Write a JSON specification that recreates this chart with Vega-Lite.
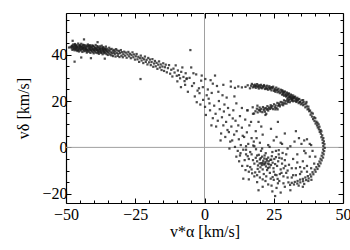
{
"$schema":"https://vega.github.io/schema/vega-lite/v6.json",
"width":277,"height":190,
"autosize":{"type":"none"},
"padding":{"left":66,"top":13,"right":7,"bottom":47},
"background":"white",
"config":{"view":{"stroke":null},
"scale":{"zero":false},
"axis":{"labelFont":"Liberation Serif","titleFont":"Liberation Serif","labelFontSize":16,"titleFontSize":16,"labelColor":"#000","titleColor":"#000","titleFontWeight":"normal","domain":false,"grid":false,"tickColor":"#000","tickWidth":1,"labelFlush":false,"labelOverlap":false}},
"resolve":{"axis":{"x":"independent","y":"independent"}},
"layer":[
{"data":{"values":[{"va":0}]},"mark":{"type":"rule","color":"#a0a0a0","strokeWidth":1},"encoding":{"x":{"field":"va","type":"quantitative","scale":{"domain":[-50,50],"nice":false,"padding":0},"axis":null}}},
{"data":{"values":[{"vd":0}]},"mark":{"type":"rule","color":"#a0a0a0","strokeWidth":1},"encoding":{"y":{"field":"vd","type":"quantitative","scale":{"domain":[-24,58],"nice":false,"padding":0},"axis":null}}},
{"data":{"values":[
{"va":-48.3,"vd":43.4},{"va":-48.0,"vd":42.8},{"va":-47.8,"vd":43.9},{"va":-47.7,"vd":42.1},{"va":-47.5,"vd":43.3},{"va":-47.4,"vd":44.4},{"va":-47.2,"vd":42.7},{"va":-47.1,"vd":43.6},{"va":-46.9,"vd":41.9},{"va":-46.8,"vd":43.1},
{"va":-46.7,"vd":44.6},{"va":-46.6,"vd":42.5},{"va":-46.4,"vd":43.7},{"va":-46.3,"vd":42.0},{"va":-46.2,"vd":44.1},{"va":-46.0,"vd":42.9},{"va":-45.9,"vd":41.6},{"va":-45.8,"vd":43.5},{"va":-45.6,"vd":44.8},{"va":-45.5,"vd":42.3},
{"va":-45.4,"vd":43.0},{"va":-45.3,"vd":41.4},{"va":-45.1,"vd":44.2},{"va":-45.0,"vd":42.6},{"va":-44.9,"vd":43.8},{"va":-44.7,"vd":41.8},{"va":-44.6,"vd":43.2},{"va":-44.5,"vd":44.7},{"va":-44.3,"vd":42.4},{"va":-44.2,"vd":43.6},
{"va":-44.1,"vd":41.2},{"va":-43.9,"vd":42.9},{"va":-43.8,"vd":44.3},{"va":-43.7,"vd":42.0},{"va":-43.5,"vd":43.4},{"va":-43.4,"vd":41.5},{"va":-43.3,"vd":42.7},{"va":-43.1,"vd":44.0},{"va":-43.0,"vd":43.1},{"va":-42.9,"vd":41.7},
{"va":-42.8,"vd":42.5},{"va":-42.6,"vd":43.9},{"va":-42.5,"vd":40.9},{"va":-42.4,"vd":42.2},{"va":-42.2,"vd":43.5},{"va":-42.1,"vd":44.4},{"va":-42.0,"vd":41.9},{"va":-41.8,"vd":42.8},{"va":-41.7,"vd":41.3},{"va":-41.6,"vd":43.7},
{"va":-41.4,"vd":42.4},{"va":-41.3,"vd":44.1},{"va":-41.2,"vd":40.8},{"va":-41.0,"vd":42.0},{"va":-40.9,"vd":43.2},{"va":-40.8,"vd":41.6},{"va":-40.6,"vd":42.9},{"va":-40.5,"vd":44.0},{"va":-40.4,"vd":41.1},{"va":-40.2,"vd":42.5},
{"va":-40.1,"vd":43.6},{"va":-40.0,"vd":40.6},{"va":-39.8,"vd":42.1},{"va":-39.7,"vd":43.3},{"va":-39.6,"vd":41.4},{"va":-39.4,"vd":42.7},{"va":-39.3,"vd":44.2},{"va":-39.2,"vd":40.9},{"va":-39.0,"vd":41.9},{"va":-38.9,"vd":43.0},
{"va":-38.8,"vd":42.3},{"va":-38.6,"vd":40.7},{"va":-38.5,"vd":41.6},{"va":-38.4,"vd":43.4},{"va":-38.2,"vd":42.0},{"va":-38.1,"vd":40.4},{"va":-38.0,"vd":42.8},{"va":-37.8,"vd":41.3},{"va":-37.7,"vd":43.6},{"va":-37.6,"vd":42.2},
{"va":-37.4,"vd":40.8},{"va":-37.3,"vd":41.8},{"va":-37.2,"vd":43.0},{"va":-37.0,"vd":41.0},{"va":-36.9,"vd":42.5},{"va":-36.8,"vd":40.2},{"va":-36.6,"vd":41.7},{"va":-36.5,"vd":43.3},{"va":-36.4,"vd":42.0},{"va":-36.2,"vd":40.6},
{"va":-36.1,"vd":41.4},{"va":-36.0,"vd":42.7},{"va":-35.8,"vd":40.9},{"va":-35.7,"vd":42.2},{"va":-35.6,"vd":43.5},{"va":-35.4,"vd":40.3},{"va":-35.3,"vd":41.5},{"va":-35.2,"vd":42.6},{"va":-35.0,"vd":41.2},{"va":-34.9,"vd":39.9},
{"va":-34.7,"vd":42.0},{"va":-34.6,"vd":40.8},{"va":-34.4,"vd":43.0},{"va":-34.3,"vd":41.6},{"va":-34.1,"vd":40.1},{"va":-34.0,"vd":42.3},{"va":-33.8,"vd":41.0},{"va":-33.6,"vd":39.7},{"va":-33.5,"vd":42.5},{"va":-33.3,"vd":40.6},
{"va":-33.1,"vd":41.7},{"va":-33.0,"vd":39.4},{"va":-32.8,"vd":40.9},{"va":-32.6,"vd":42.1},{"va":-32.4,"vd":40.3},{"va":-32.3,"vd":41.4},{"va":-32.1,"vd":39.2},{"va":-31.9,"vd":42.4},{"va":-31.7,"vd":40.7},{"va":-31.5,"vd":41.8},
{"va":-31.3,"vd":39.5},{"va":-31.1,"vd":40.4},{"va":-30.9,"vd":41.6},{"va":-30.7,"vd":39.0},{"va":-30.5,"vd":40.8},{"va":-30.2,"vd":42.0},{"va":-30.0,"vd":39.6},{"va":-29.8,"vd":41.1},{"va":-29.5,"vd":38.9},{"va":-29.3,"vd":40.2},
{"va":-47.9,"vd":43.6},{"va":-47.3,"vd":42.4},{"va":-46.9,"vd":44.3},{"va":-46.4,"vd":42.8},{"va":-46.1,"vd":43.4},{"va":-45.7,"vd":42.1},{"va":-45.2,"vd":43.9},{"va":-44.8,"vd":42.2},{"va":-44.4,"vd":43.5},{"va":-44.0,"vd":42.6},
{"va":-43.6,"vd":44.1},{"va":-43.2,"vd":42.3},{"va":-42.7,"vd":43.2},{"va":-42.3,"vd":41.4},{"va":-41.9,"vd":43.9},{"va":-41.5,"vd":42.1},{"va":-41.1,"vd":43.5},{"va":-40.7,"vd":42.2},{"va":-40.3,"vd":43.8},{"va":-39.9,"vd":41.8},
{"va":-39.5,"vd":42.9},{"va":-39.1,"vd":42.4},{"va":-38.7,"vd":43.7},{"va":-38.3,"vd":41.1},{"va":-37.9,"vd":42.5},{"va":-37.5,"vd":41.5},{"va":-37.1,"vd":43.9},{"va":-36.7,"vd":42.3},{"va":-36.3,"vd":41.2},{"va":-35.9,"vd":42.4},
{"va":-46.6,"vd":43.9},{"va":-45.0,"vd":43.3},{"va":-43.9,"vd":43.0},{"va":-42.6,"vd":42.2},{"va":-41.4,"vd":43.0},{"va":-40.1,"vd":42.2},{"va":-38.9,"vd":42.1},{"va":-37.8,"vd":42.6},{"va":-36.6,"vd":42.9},{"va":-35.5,"vd":41.9},
{"va":-29.0,"vd":41.3},{"va":-28.7,"vd":39.6},{"va":-28.4,"vd":40.9},{"va":-28.1,"vd":38.7},{"va":-27.8,"vd":40.1},{"va":-27.5,"vd":41.2},{"va":-27.2,"vd":39.3},{"va":-26.9,"vd":40.4},{"va":-26.6,"vd":38.5},{"va":-26.3,"vd":39.8},
{"va":-26.0,"vd":41.0},{"va":-25.7,"vd":38.9},{"va":-25.4,"vd":40.1},{"va":-25.1,"vd":37.9},{"va":-24.8,"vd":39.3},{"va":-24.5,"vd":40.3},{"va":-24.2,"vd":38.0},{"va":-23.9,"vd":39.1},{"va":-23.6,"vd":36.9},{"va":-23.3,"vd":38.5},
{"va":-23.0,"vd":39.6},{"va":-22.7,"vd":37.5},{"va":-22.4,"vd":38.6},{"va":-22.1,"vd":36.4},{"va":-21.8,"vd":38.0},{"va":-21.5,"vd":39.2},{"va":-21.2,"vd":36.9},{"va":-20.9,"vd":37.8},{"va":-20.6,"vd":35.8},{"va":-20.3,"vd":38.6},
{"va":-20.0,"vd":36.7},{"va":-19.7,"vd":37.9},{"va":-19.4,"vd":35.5},{"va":-19.1,"vd":36.8},{"va":-18.8,"vd":38.1},{"va":-18.5,"vd":34.8},{"va":-18.2,"vd":36.2},{"va":-17.9,"vd":37.3},{"va":-17.6,"vd":35.0},{"va":-17.3,"vd":36.5},
{"va":-17.0,"vd":33.9},{"va":-16.7,"vd":35.7},{"va":-16.4,"vd":37.1},{"va":-16.1,"vd":34.5},{"va":-15.8,"vd":35.8},{"va":-15.5,"vd":33.4},{"va":-15.2,"vd":34.9},{"va":-14.9,"vd":36.3},{"va":-14.6,"vd":33.0},{"va":-14.3,"vd":34.6},
{"va":-14.0,"vd":35.7},{"va":-13.6,"vd":32.4},{"va":-13.2,"vd":34.2},{"va":-12.8,"vd":35.5},{"va":-12.4,"vd":31.8},{"va":-12.0,"vd":33.5},{"va":-11.6,"vd":30.6},{"va":-11.2,"vd":34.0},{"va":-10.8,"vd":32.3},{"va":-10.4,"vd":35.4},
{"va":-10.0,"vd":30.9},{"va":-9.6,"vd":33.2},{"va":-9.2,"vd":31.2},{"va":-8.8,"vd":29.8},{"va":-8.4,"vd":32.6},{"va":-8.0,"vd":34.5},{"va":-7.6,"vd":30.4},{"va":-7.2,"vd":28.6},{"va":-6.8,"vd":32.0},{"va":-6.4,"vd":29.8},
{"va":-46.9,"vd":37.0},{"va":-43.5,"vd":46.6},{"va":-44.5,"vd":38.8},{"va":-41.0,"vd":38.5},{"va":-38.6,"vd":45.4},{"va":-23.1,"vd":29.5},{"va":-5.1,"vd":42.0},{"va":-48.9,"vd":43.1},{"va":-47.6,"vd":46.0},{"va":-36.0,"vd":38.3},
{"va":-9.8,"vd":28.5},{"va":-7.0,"vd":27.0},{"va":-6.5,"vd":29.5},{"va":-5.4,"vd":30.0},{"va":-4.5,"vd":26.5},{"va":-3.8,"vd":27.7},{"va":-3.0,"vd":31.5},{"va":-2.5,"vd":24.5},{"va":-1.8,"vd":23.4},{"va":-1.2,"vd":28.8},{"va":-0.6,"vd":26.0},{"va":0.3,"vd":29.5},{"va":0.8,"vd":22.5},{"va":1.2,"vd":25.0},{"va":1.5,"vd":21.0},{"va":-0.5,"vd":20.5},{"va":-1.5,"vd":18.5},{"va":0.2,"vd":17.5},{"va":1.8,"vd":19.0},{"va":2.0,"vd":16.0},{"va":2.6,"vd":23.5},{"va":3.0,"vd":12.6},{"va":3.5,"vd":18.0},{"va":4.0,"vd":14.5},{"va":4.2,"vd":9.0},{"va":4.8,"vd":11.5},{"va":5.2,"vd":20.0},{"va":5.5,"vd":16.5},{"va":6.0,"vd":6.0},{"va":6.3,"vd":13.0},{"va":6.8,"vd":9.5},{"va":7.2,"vd":18.5},{"va":7.5,"vd":4.5},{"va":7.8,"vd":11.0},{"va":8.3,"vd":7.5},{"va":8.8,"vd":6.6},{"va":9.0,"vd":14.0},{"va":9.3,"vd":2.5},{"va":9.7,"vd":9.0},{"va":10.0,"vd":3.0},{"va":10.4,"vd":16.0},{"va":10.7,"vd":5.5},{"va":11.0,"vd":0.2},{"va":11.2,"vd":11.5},{"va":11.6,"vd":7.0},{"va":12.0,"vd":-1.5},{"va":12.4,"vd":3.5},{"va":12.8,"vd":13.5},{"va":13.1,"vd":1.0},{"va":13.5,"vd":8.5},{"va":14.0,"vd":-1.0},{"va":14.3,"vd":4.5},{"va":14.7,"vd":12.0},{"va":15.0,"vd":-3.0},{"va":15.3,"vd":6.5},{"va":15.8,"vd":1.5},{"va":16.2,"vd":9.5},{"va":16.5,"vd":-2.0},{"va":17.0,"vd":4.0},{"va":17.5,"vd":14.5},{"va":18.0,"vd":0.5},{"va":18.5,"vd":7.0},{"va":19.0,"vd":-3.5},{"va":19.5,"vd":11.0},{"va":20.0,"vd":2.0},{"va":21.0,"vd":5.5},{"va":22.0,"vd":14.0},{"va":23.0,"vd":1.0},{"va":24.0,"vd":8.0},{"va":25.0,"vd":3.0},{"va":26.5,"vd":11.0},{"va":28.0,"vd":1.5},{"va":29.0,"vd":6.0},{"va":33.0,"vd":7.0},{"va":36.0,"vd":3.0},{"va":38.0,"vd":1.5},{"va":3.0,"vd":27.5},{"va":-2.0,"vd":25.5},{"va":5.0,"vd":24.0},{"va":8.0,"vd":21.5},{"va":11.5,"vd":19.0},{"va":13.5,"vd":17.0},{"va":15.5,"vd":16.0},{"va":-4.0,"vd":32.0},{"va":-8.5,"vd":26.0},{"va":9.5,"vd":28.5},
{"va":-3.5,"vd":22.0},{"va":-1.0,"vd":31.0},{"va":2.2,"vd":29.0},{"va":4.5,"vd":26.5},{"va":6.5,"vd":22.5},{"va":7.0,"vd":15.5},{"va":8.5,"vd":17.0},{"va":10.2,"vd":12.5},{"va":12.2,"vd":9.5},{"va":13.8,"vd":5.0},{"va":16.8,"vd":11.0},{"va":18.8,"vd":4.0},{"va":20.5,"vd":9.0},{"va":5.8,"vd":3.0},{"va":9.0,"vd":-0.5},
{"va":-6.0,"vd":24.0},{"va":-2.8,"vd":19.5},{"va":0.5,"vd":14.0},{"va":2.5,"vd":9.5},{"va":-4.8,"vd":34.5},{"va":3.8,"vd":31.0},{"va":6.8,"vd":27.0},{"va":10.8,"vd":22.0},
{"va":9.5,"vd":26.2},{"va":11.0,"vd":25.7},{"va":12.2,"vd":26.3},{"va":13.5,"vd":25.9},{"va":14.8,"vd":26.1},{"va":15.6,"vd":26.8},{"va":16.4,"vd":25.5},
{"va":16.8,"vd":26.6},{"va":17.1,"vd":27.4},{"va":17.4,"vd":25.9},{"va":17.7,"vd":26.8},{"va":17.9,"vd":26.2},{"va":18.2,"vd":27.1},{"va":18.5,"vd":25.7},{"va":18.7,"vd":26.5},{"va":19.0,"vd":27.3},{"va":19.3,"vd":26.0},
{"va":19.6,"vd":25.4},{"va":19.8,"vd":26.8},{"va":20.1,"vd":26.2},{"va":20.4,"vd":27.0},{"va":20.7,"vd":25.5},{"va":20.9,"vd":26.4},{"va":21.2,"vd":25.9},{"va":21.5,"vd":26.9},{"va":21.8,"vd":25.2},{"va":22.0,"vd":26.3},
{"va":22.3,"vd":25.6},{"va":22.6,"vd":26.6},{"va":22.9,"vd":24.9},{"va":23.1,"vd":25.8},{"va":23.4,"vd":26.4},{"va":23.7,"vd":25.1},{"va":24.0,"vd":25.9},{"va":24.2,"vd":24.6},{"va":24.5,"vd":25.5},{"va":24.8,"vd":26.2},
{"va":25.1,"vd":24.4},{"va":25.3,"vd":25.3},{"va":25.6,"vd":24.0},{"va":25.9,"vd":25.8},{"va":26.1,"vd":24.7},{"va":26.4,"vd":23.8},{"va":26.7,"vd":25.3},{"va":26.9,"vd":24.2},{"va":27.2,"vd":23.4},{"va":27.5,"vd":24.9},
{"va":27.7,"vd":23.9},{"va":28.0,"vd":22.8},{"va":28.2,"vd":24.5},{"va":28.5,"vd":23.4},{"va":28.7,"vd":22.3},{"va":29.0,"vd":24.1},{"va":29.2,"vd":23.0},{"va":29.5,"vd":21.9},{"va":29.7,"vd":23.7},{"va":30.0,"vd":22.6},
{"va":30.2,"vd":21.4},{"va":30.5,"vd":23.3},{"va":30.7,"vd":22.1},{"va":31.0,"vd":20.9},{"va":31.2,"vd":22.8},{"va":31.5,"vd":21.7},{"va":31.7,"vd":20.5},{"va":32.0,"vd":22.4},{"va":32.2,"vd":21.2},{"va":32.5,"vd":20.1},
{"va":32.7,"vd":21.9},{"va":33.0,"vd":20.7},{"va":33.2,"vd":19.6},{"va":33.5,"vd":21.4},{"va":33.7,"vd":20.2},{"va":34.0,"vd":19.1},{"va":34.2,"vd":20.9},{"va":34.5,"vd":19.7},{"va":34.8,"vd":18.6},{"va":35.0,"vd":20.3},
{"va":35.3,"vd":19.1},{"va":35.6,"vd":18.2},{"va":35.8,"vd":19.6},{"va":36.1,"vd":18.6},{"va":36.4,"vd":17.3},{"va":36.7,"vd":18.9},{"va":36.9,"vd":17.7},{"va":37.2,"vd":16.4},{"va":37.5,"vd":17.6},{"va":37.8,"vd":15.6},
{"va":27.9,"vd":24.6},{"va":28.4,"vd":23.9},{"va":28.8,"vd":24.0},{"va":29.3,"vd":22.5},{"va":29.9,"vd":23.3},{"va":30.4,"vd":22.9},{"va":30.9,"vd":21.8},{"va":31.4,"vd":22.4},{"va":31.9,"vd":21.5},{"va":32.4,"vd":21.6},
{"va":32.9,"vd":21.1},{"va":33.4,"vd":20.5},{"va":33.9,"vd":20.8},{"va":34.4,"vd":19.5},{"va":30.6,"vd":21.8},{"va":29.6,"vd":22.2},{"va":31.6,"vd":20.9},{"va":28.3,"vd":22.9},{"va":33.1,"vd":19.9},{"va":26.3,"vd":24.9},
{"va":25.4,"vd":24.8},{"va":24.4,"vd":25.9},{"va":23.6,"vd":25.6},{"va":22.5,"vd":25.3},{"va":21.4,"vd":26.4},{"va":20.3,"vd":25.8},{"va":19.4,"vd":26.6},{"va":18.4,"vd":26.4},{"va":35.6,"vd":20.4},{"va":36.8,"vd":19.6},
{"va":38.1,"vd":15.9},{"va":37.6,"vd":16.6},{"va":38.6,"vd":15.0},{"va":38.3,"vd":14.1},{"va":39.1,"vd":14.6},{"va":38.8,"vd":13.3},{"va":39.6,"vd":13.0},{"va":39.2,"vd":12.2},{"va":40.0,"vd":12.6},{"va":39.7,"vd":11.4},
{"va":40.4,"vd":11.1},{"va":40.1,"vd":10.3},{"va":40.8,"vd":10.6},{"va":40.6,"vd":9.5},{"va":41.2,"vd":9.9},{"va":40.9,"vd":8.6},{"va":41.5,"vd":8.9},{"va":41.3,"vd":7.8},{"va":41.9,"vd":7.5},{"va":41.6,"vd":6.7},
{"va":42.2,"vd":6.9},{"va":42.0,"vd":5.9},{"va":42.5,"vd":5.2},{"va":42.2,"vd":4.4},{"va":42.9,"vd":4.0},{"va":42.6,"vd":3.3},{"va":43.1,"vd":2.6},{"va":42.7,"vd":1.9},{"va":43.3,"vd":1.4},{"va":42.9,"vd":0.6},
{"va":43.4,"vd":-0.2},{"va":42.8,"vd":-0.9},{"va":43.2,"vd":-1.6},{"va":42.6,"vd":-2.3},{"va":43.0,"vd":-3.0},{"va":42.3,"vd":-3.6},{"va":42.8,"vd":-4.4},{"va":41.9,"vd":-4.9},{"va":42.3,"vd":-5.6},{"va":41.5,"vd":-6.1},
{"va":41.9,"vd":-6.9},{"va":41.0,"vd":-7.3},{"va":41.4,"vd":-8.1},{"va":40.4,"vd":-8.5},{"va":40.8,"vd":-9.3},{"va":39.8,"vd":-9.6},{"va":40.1,"vd":-10.5},{"va":39.0,"vd":-10.7},{"va":39.3,"vd":-11.6},{"va":38.2,"vd":-11.7},
{"va":38.5,"vd":-12.6},{"va":37.3,"vd":-12.4},{"va":37.6,"vd":-13.4},{"va":36.4,"vd":-13.0},{"va":36.7,"vd":-14.1},{"va":35.5,"vd":-13.6},{"va":35.6,"vd":-14.6},{"va":34.5,"vd":-13.9},{"va":34.6,"vd":-15.1},{"va":33.6,"vd":-14.5},
{"va":33.5,"vd":-15.6},{"va":32.6,"vd":-14.9},{"va":32.3,"vd":-16.0},{"va":31.5,"vd":-15.3},{"va":30.9,"vd":-16.2},{"va":30.3,"vd":-15.1},{"va":36.0,"vd":-15.8},{"va":38.6,"vd":-14.0},{"va":37.0,"vd":-10.5},{"va":39.6,"vd":-7.0},
{"va":18.4,"vd":15.6},{"va":18.9,"vd":16.7},{"va":19.2,"vd":15.1},{"va":19.6,"vd":16.2},{"va":19.9,"vd":17.2},{"va":20.2,"vd":15.5},{"va":20.5,"vd":16.6},{"va":20.9,"vd":15.2},{"va":21.1,"vd":17.4},{"va":21.4,"vd":16.1},
{"va":21.8,"vd":15.4},{"va":22.1,"vd":17.0},{"va":22.4,"vd":16.3},{"va":22.7,"vd":17.8},{"va":23.0,"vd":15.9},{"va":23.3,"vd":17.2},{"va":23.6,"vd":16.6},{"va":23.9,"vd":18.2},{"va":24.2,"vd":16.9},{"va":24.5,"vd":17.8},
{"va":24.8,"vd":16.5},{"va":25.1,"vd":18.6},{"va":25.4,"vd":17.3},{"va":25.7,"vd":18.1},{"va":26.0,"vd":17.0},{"va":26.3,"vd":19.2},{"va":26.6,"vd":18.0},{"va":26.9,"vd":18.9},{"va":27.2,"vd":17.7},{"va":27.5,"vd":19.6},
{"va":27.8,"vd":18.5},{"va":28.1,"vd":19.4},{"va":28.4,"vd":18.2},{"va":28.7,"vd":20.3},{"va":29.0,"vd":19.0},{"va":29.3,"vd":20.0},{"va":29.6,"vd":18.9},{"va":29.9,"vd":20.8},{"va":30.2,"vd":19.6},{"va":30.5,"vd":20.5},
{"va":30.8,"vd":19.5},{"va":31.1,"vd":21.3},{"va":31.4,"vd":20.1},{"va":31.7,"vd":21.0},{"va":32.0,"vd":19.9},{"va":32.3,"vd":21.6},{"va":25.6,"vd":16.4},{"va":27.0,"vd":18.3},{"va":28.5,"vd":19.0},{"va":30.0,"vd":20.2},
{"va":24.0,"vd":17.5},{"va":22.8,"vd":16.6},{"va":21.6,"vd":16.8},{"va":20.0,"vd":16.0},{"va":17.4,"vd":17.3},{"va":17.9,"vd":14.6},{"va":19.1,"vd":18.0},{"va":22.3,"vd":14.5},{"va":26.4,"vd":16.4},{"va":15.5,"vd":16.0},
{"va":34.1,"vd":4.0},{"va":38.5,"vd":1.0},{"va":36.0,"vd":-1.5},{"va":26.0,"vd":4.5},{"va":30.0,"vd":-0.5},{"va":32.5,"vd":2.5},
{"va":18.5,"vd":-4.5},{"va":19.0,"vd":-6.0},{"va":19.3,"vd":-7.8},{"va":19.6,"vd":-3.2},{"va":20.0,"vd":-5.2},{"va":20.2,"vd":-8.6},{"va":20.5,"vd":-6.8},{"va":20.8,"vd":-4.0},{"va":21.0,"vd":-9.5},{"va":21.2,"vd":-5.8},{"va":21.5,"vd":-7.4},{"va":21.7,"vd":-3.5},{"va":22.0,"vd":-6.4},{"va":22.2,"vd":-8.2},{"va":22.4,"vd":-5.0},{"va":22.6,"vd":-9.8},{"va":22.8,"vd":-7.0},{"va":23.0,"vd":-4.4},{"va":23.2,"vd":-6.0},{"va":23.5,"vd":-8.6},{"va":23.8,"vd":-5.4},{"va":24.0,"vd":-7.6},{"va":24.3,"vd":-3.8},{"va":24.6,"vd":-6.6},{"va":24.9,"vd":-9.0},{"va":25.2,"vd":-5.0},{"va":25.5,"vd":-7.2},{"va":25.8,"vd":-4.2},{"va":26.2,"vd":-8.0},{"va":26.6,"vd":-6.0},{"va":18.0,"vd":-7.0},{"va":17.5,"vd":-5.5},{"va":17.0,"vd":-3.0},{"va":16.5,"vd":-8.5},{"va":19.8,"vd":-10.5},{"va":21.4,"vd":-11.5},{"va":23.6,"vd":-11.0},{"va":22.1,"vd":-2.5},{"va":20.4,"vd":-1.5},{"va":24.5,"vd":-2.0},{"va":21.0,"vd":-6.7},{"va":22.5,"vd":-5.7},{"va":21.8,"vd":-7.0},{"va":23.3,"vd":-7.3},{"va":20.7,"vd":-7.6},{"va":22.9,"vd":-8.9},{"va":19.9,"vd":-6.9},{"va":21.6,"vd":-4.8},{"va":24.1,"vd":-5.3},{"va":20.3,"vd":-4.6},{"va":19.2,"vd":-9.3},{"va":22.3,"vd":-12.5},{"va":25.0,"vd":-10.5},{"va":23.9,"vd":-13.5},{"va":26.0,"vd":-12.0},{"va":27.5,"vd":-9.5},{"va":27.0,"vd":-4.5},{"va":28.0,"vd":-7.0},
{"va":18.3,"vd":-10.8},{"va":26.8,"vd":-3.0},{"va":19.0,"vd":-12.0},{"va":27.2,"vd":-11.5},{"va":17.2,"vd":-11.2},{"va":25.8,"vd":-1.5},{"va":28.6,"vd":-9.0},{"va":16.0,"vd":-10.5},{"va":24.6,"vd":-12.8},{"va":18.6,"vd":-0.8},{"va":27.9,"vd":-4.8},{"va":15.6,"vd":-3.8},{"va":21.0,"vd":-13.8},{"va":26.4,"vd":-13.6},{"va":14.8,"vd":-9.8},{"va":29.2,"vd":-8.0},{"va":17.6,"vd":0.8},{"va":25.5,"vd":-11.8},{"va":13.6,"vd":-8.0},{"va":28.2,"vd":-2.4},
{"va":11.5,"vd":-4.0},{"va":13.0,"vd":-2.5},{"va":14.5,"vd":-5.5},{"va":15.5,"vd":-8.0},{"va":14.0,"vd":-13.5},{"va":16.0,"vd":-13.8},{"va":18.0,"vd":-12.5},{"va":19.0,"vd":-15.0},{"va":19.5,"vd":-18.5},{"va":21.0,"vd":-17.0},{"va":23.0,"vd":-16.0},{"va":24.5,"vd":-19.0},{"va":25.5,"vd":-21.0},{"va":26.0,"vd":-17.5},{"va":27.0,"vd":-14.5},{"va":28.5,"vd":-12.5},{"va":29.0,"vd":-17.0},{"va":30.0,"vd":-10.0},{"va":31.0,"vd":-18.5},{"va":32.0,"vd":-12.0},{"va":33.0,"vd":-9.0},{"va":34.0,"vd":-16.5},{"va":35.0,"vd":-10.5},{"va":35.5,"vd":-6.0},{"va":37.0,"vd":-8.0},{"va":38.0,"vd":-4.0},{"va":39.0,"vd":-1.5},{"va":40.0,"vd":-4.0},{"va":32.0,"vd":-5.0},{"va":29.5,"vd":-3.0},{"va":30.5,"vd":-7.5},{"va":33.5,"vd":-3.0},{"va":36.5,"vd":-2.5},{"va":28.5,"vd":-15.5},{"va":27.5,"vd":-19.5},{"va":31.5,"vd":-13.0},{"va":33.0,"vd":-12.0},{"va":34.5,"vd":-11.5},{"va":29.5,"vd":-11.0},{"va":26.5,"vd":-15.5},{"va":25.0,"vd":-14.0},{"va":17.0,"vd":-9.5},{"va":15.0,"vd":-1.0},{"va":12.5,"vd":-6.0},{"va":16.0,"vd":-5.0},{"va":35.5,"vd":-17.0},{"va":37.5,"vd":-14.5},{"va":38.5,"vd":-9.0},
{"va":15.0,"vd":0.5},{"va":17.8,"vd":2.5},{"va":20.8,"vd":-0.5},{"va":23.5,"vd":0.2},{"va":27.5,"vd":2.0},{"va":31.0,"vd":0.5},{"va":35.0,"vd":1.5},{"va":37.0,"vd":3.5},{"va":12.8,"vd":-3.5},{"va":26.8,"vd":-1.2},{"va":29.0,"vd":-5.5},{"va":31.5,"vd":-9.0},{"va":33.5,"vd":-6.5},{"va":34.5,"vd":-8.5},{"va":36.0,"vd":-9.0},{"va":30.0,"vd":-13.0},{"va":27.8,"vd":-11.0},{"va":24.2,"vd":-16.5},{"va":22.0,"vd":-14.5},{"va":20.0,"vd":-13.0}
]},
"mark":{"type":"square","size":5,"color":"#1e1e1e","opacity":0.8},
"encoding":{
"x":{"field":"va","type":"quantitative","scale":{"domain":[-50,50],"nice":false,"padding":0},"axis":{"orient":"bottom","values":[-50,-25,0,25,50],"tickSize":-5,"labelPadding":8,"title":"v*α [km/s]","titlePadding":1,"format":"d","domain":true,"domainColor":"#000","domainWidth":1.2}},
"y":{"field":"vd","type":"quantitative","scale":{"domain":[-24,58],"nice":false,"padding":0},"axis":{"orient":"left","values":[-20,0,20,40],"tickSize":-5,"labelPadding":4,"title":"vδ [km/s]","titlePadding":10,"format":"d","domain":true,"domainColor":"#000","domainWidth":1.2}}}},
{"data":{"values":[{"va":0,"vd":0}]},"mark":{"type":"point","opacity":0},
"encoding":{"x":{"field":"va","type":"quantitative","scale":{"domain":[-50,50],"nice":false,"padding":0},"axis":{"orient":"top","values":[-50,-25,0,25,50],"tickSize":-5,"labels":false,"title":null,"domain":true,"domainColor":"#000","domainWidth":1.2}},
"y":{"field":"vd","type":"quantitative","scale":{"domain":[-24,58],"nice":false,"padding":0},"axis":{"orient":"right","values":[-20,0,20,40],"tickSize":-5,"labels":false,"title":null,"domain":true,"domainColor":"#000","domainWidth":1.2}}}},
{"data":{"values":[{"va":0,"vd":0}]},"mark":{"type":"point","opacity":0},
"encoding":{"x":{"field":"va","type":"quantitative","scale":{"domain":[-50,50],"nice":false,"padding":0},"axis":{"orient":"bottom","values":[-45,-40,-35,-30,-20,-15,-10,-5,5,10,15,20,30,35,40,45],"tickSize":-3,"labels":false,"title":null}},
"y":{"field":"vd","type":"quantitative","scale":{"domain":[-24,58],"nice":false,"padding":0},"axis":{"orient":"left","values":[-15,-10,-5,5,10,15,25,30,35,45,50,55],"tickSize":-3,"labels":false,"title":null}}}},
{"data":{"values":[{"va":0,"vd":0}]},"mark":{"type":"point","opacity":0},
"encoding":{"x":{"field":"va","type":"quantitative","scale":{"domain":[-50,50],"nice":false,"padding":0},"axis":{"orient":"top","values":[-45,-40,-35,-30,-20,-15,-10,-5,5,10,15,20,30,35,40,45],"tickSize":-3,"labels":false,"title":null}},
"y":{"field":"vd","type":"quantitative","scale":{"domain":[-24,58],"nice":false,"padding":0},"axis":{"orient":"right","values":[-15,-10,-5,5,10,15,25,30,35,45,50,55],"tickSize":-3,"labels":false,"title":null}}}}
]
}
